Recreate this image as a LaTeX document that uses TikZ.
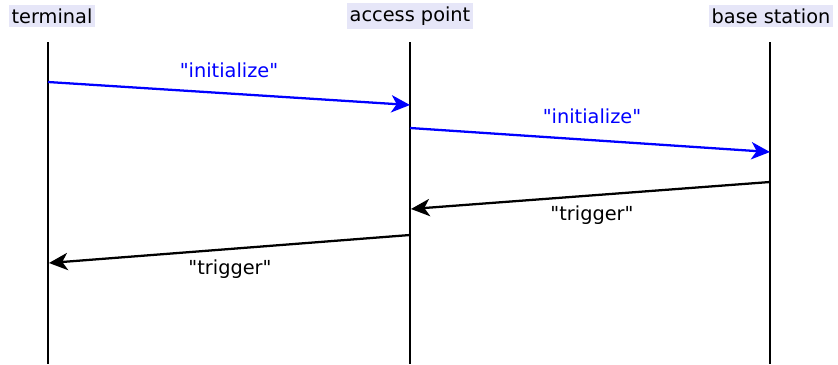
\documentclass[tikz,border=0pt]{standalone}
\usepackage{fontspec}
\setmainfont{DejaVu Sans}
\usetikzlibrary{arrows.meta}

\newcommand{\qt}[1]{\textquotedbl#1\textquotedbl}

\begin{document}
\begin{tikzpicture}[
    x=0.75pt, y=-0.75pt,
    msg/.tip={Stealth[length=14pt,width=13pt,inset=4pt]},
    party/.style={fill=lavender, inner xsep=2pt, inner ysep=3pt, font=\fontsize{14.5}{17}\selectfont},
    lifeline/.style={line width=1.6pt},
    call/.style={-msg, line width=1.7pt, blue},
    reply/.style={-msg, line width=1.7pt, black},
    msglabel/.style={font=\fontsize{14.5}{17}\selectfont},
]
    \definecolor{lavender}{RGB}{230,230,248}
    \useasboundingbox (0,0) rectangle (838,364);

    \node[party] (T) at (52,16) {terminal};
    \node[party] (AP) at (410,16) {access point};
    \node[party] (BS) at (771,16) {base station};

    \coordinate (Ttop) at (48,42);   \coordinate (Tbot) at (48,364);
    \coordinate (APtop) at (410,42); \coordinate (APbot) at (410,364);
    \coordinate (BStop) at (770,42); \coordinate (BSbot) at (770,364);

    \draw[lifeline] (Ttop) -- (Tbot);
    \draw[lifeline] (APtop) -- (APbot);
    \draw[lifeline] (BStop) -- (BSbot);

    % message end points
    \coordinate (m1s) at (48,82);   \coordinate (m1e) at (410,105);
    \coordinate (m2s) at (410,128); \coordinate (m2e) at (770,152);
    \coordinate (m3s) at (770,182); \coordinate (m3e) at (411,209);
    \coordinate (m4s) at (410,235); \coordinate (m4e) at (49,263);

    \draw[call] (m1s) -- (m1e);
    \node[msglabel, blue] (l1) at (229,70) {\qt{initialize}};
    \draw[call] (m2s) -- (m2e);
    \node[msglabel, blue] (l2) at (592,116) {\qt{initialize}};

    \draw[reply] (m3s) -- (m3e);
    \node[msglabel] (l3) at (592,215) {\qt{trigger}};
    \draw[reply] (m4s) -- (m4e);
    \node[msglabel] (l4) at (230,269) {\qt{trigger}};
\end{tikzpicture}
\end{document}
